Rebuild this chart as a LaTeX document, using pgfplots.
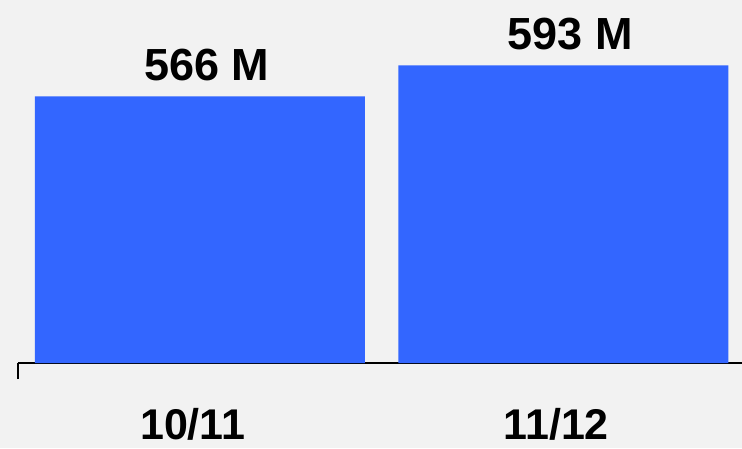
\documentclass[border=0pt]{standalone}
\usepackage{pgfplots}
\pgfplotsset{compat=1.18}
\usepackage{fontspec}
\setmainfont{Liberation Sans}
\definecolor{bg}{HTML}{F2F2F2}
\definecolor{barblue}{HTML}{3366FF}
\begin{document}
\begin{tikzpicture}[x=1pt,y=1pt]
\useasboundingbox (0,0) rectangle (742,448);
\fill[bg] (0,0) rectangle (742,448);
\begin{axis}[
  at={(18pt,85pt)}, anchor=south west,
  scale only axis, width=724pt, height=363pt,
  xmin=-0.5, xmax=1.4917, ymin=334, ymax=650,
  /pgf/number format/assume math mode=true,
  axis y line=none,
  axis x line*=bottom,
  x axis line style={line width=2pt, black},
  xtick={0,1}, xticklabels={10/11,11/12},
  major tick length=0pt,
  extra x ticks={-0.5}, extra x tick labels={},
  extra x tick style={major tick length=16pt, tick align=outside, tick style={line width=2pt, black}},
  xticklabel style={font=\bfseries\fontsize{43}{50}\selectfont, anchor=base, yshift=-76pt, xshift=-7pt},
  ybar, bar width=330pt,
  nodes near coords={\pgfmathprintnumber{\pgfplotspointmeta}\ M},
  every node near coord/.append style={font=\bfseries\fontsize{45}{52}\selectfont, anchor=south, yshift=12pt, xshift=7pt, black},
  clip=false,
]
\addplot[fill=barblue, draw=none] coordinates {(0,566) (1,593)};
\end{axis}
\end{tikzpicture}
\end{document}
